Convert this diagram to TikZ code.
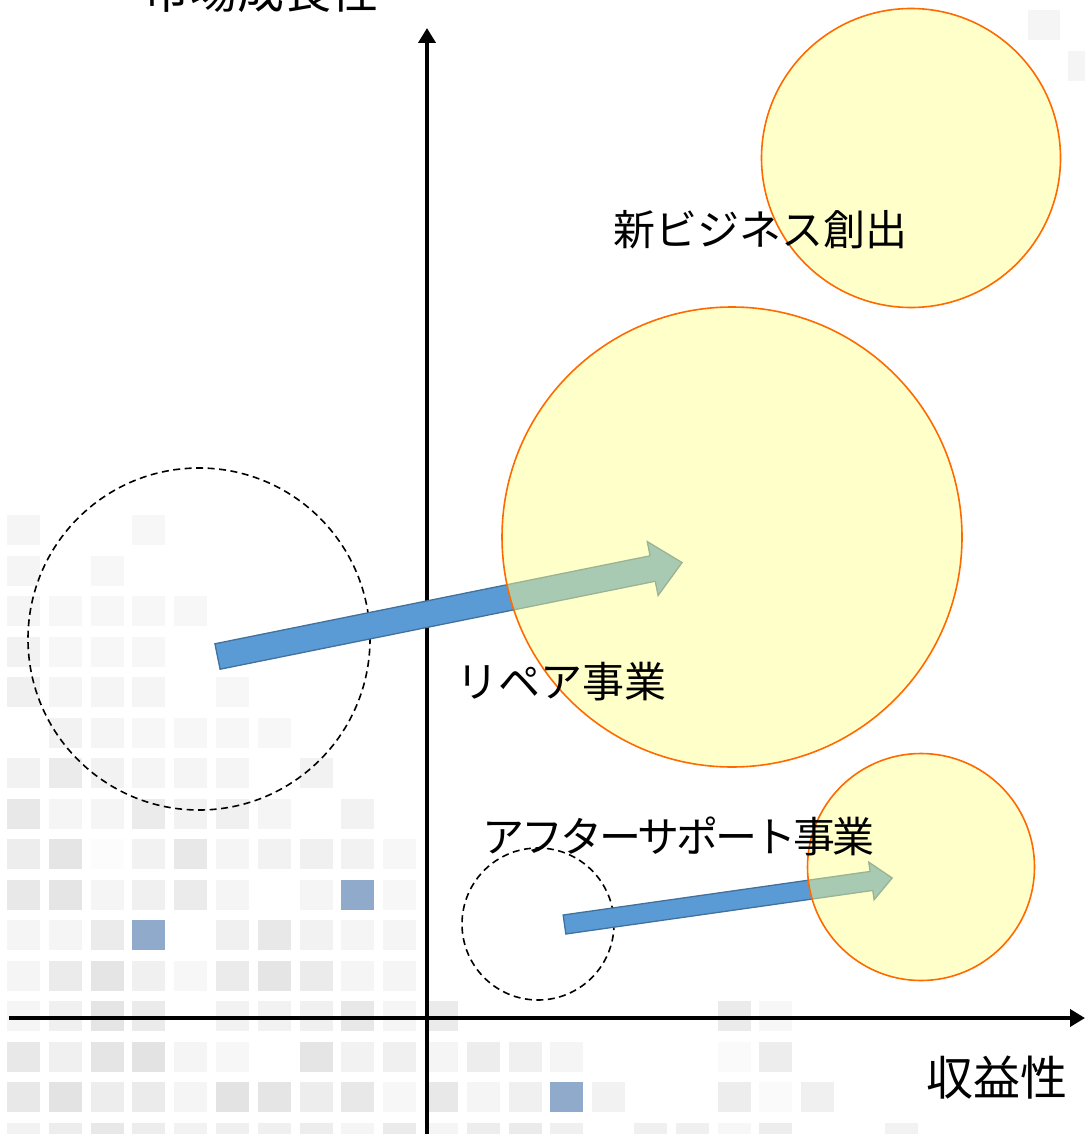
\documentclass[tikz,border=0pt]{standalone}
\usepackage{fontspec}
\newfontfamily\jp{Noto Sans CJK JP}
\newfontfamily\jptight[LetterSpace=-7.2]{Noto Sans CJK JP}
\usetikzlibrary{arrows.meta}
\definecolor{sqblue}{RGB}{143,170,203}
\definecolor{arrblue}{RGB}{91,155,213}
\definecolor{arrline}{RGB}{65,113,156}
\definecolor{circfill}{RGB}{255,255,140}
\definecolor{circline}{RGB}{255,106,0}
\tikzset{
  sq/.style={fill=black!#1},
  axisline/.style={line width=4.5pt, -{Triangle[width=17pt,length=15pt]}},
  dashcirc/.style={circle, draw=black, line width=1.6pt, dash pattern=on 7pt off 4.5pt, inner sep=0pt},
  yelcirc/.style={circle, draw=circline, line width=1.6pt, fill=circfill, fill opacity=0.47, draw opacity=1, inner sep=0pt},
  blockarr/.style={fill=arrblue, draw=arrline, line width=1.3pt, line join=miter},
  lbl/.style={inner sep=0pt, anchor=base, text=black},
  biglbl/.style={lbl, font=\jp\fontsize{42}{50}\selectfont},
  tightlbl/.style={lbl, font=\jptight\fontsize{42}{50}\selectfont},
  axlbl/.style={lbl, font=\jp\fontsize{47}{56}\selectfont},
}
\newcommand{\myblockarrow}[7]{%
  \begin{scope}[shift={(#1,#2)}, rotate=#3]
    \draw[blockarr] (0,#5) -- ({#4-#7},#5) -- ({#4-#7},#6) -- (#4,0) -- ({#4-#7},-#6) -- ({#4-#7},-#5) -- (0,-#5) -- cycle;
  \end{scope}}
\begin{document}
\begin{tikzpicture}[x=1pt,y=-1pt]
\useasboundingbox (0,0) rectangle (1085,1134);
\clip (0,0) rectangle (1085,1134);
% background grid of squares
\foreach \c/\r/\l in {
 0/0/4, 3/0/3,
 0/1/4, 2/1/3,
 0/2/4, 1/2/3, 2/2/3, 3/2/3, 4/2/3,
 0/3/5, 1/3/3, 2/3/3, 3/3/3,
 0/4/6, 1/4/4, 2/4/4, 3/4/4, 5/4/3,
 1/5/5, 2/5/4, 3/5/3, 4/5/3, 5/5/3, 6/5/3,
 0/6/5, 1/6/8, 2/6/5, 3/6/4, 4/6/4, 5/6/4, 7/6/5,
 0/7/9, 1/7/4, 2/7/4, 3/7/8, 4/7/5, 5/7/6, 6/7/4, 8/7/5,
 0/8/7, 1/8/10, 2/8/1, 3/8/5, 4/8/9, 5/8/4, 6/8/5, 7/8/6, 8/8/5, 9/8/3,
 0/9/9, 1/9/10, 2/9/4, 3/9/6, 4/9/8, 5/9/4, 7/9/4, 9/9/3,
 0/10/4, 1/10/4, 2/10/8, 5/10/6, 6/10/9, 7/10/5, 8/10/4, 9/10/4,
 0/11/4, 1/11/8, 2/11/10, 3/11/6, 4/11/3, 5/11/8, 6/11/10, 7/11/8, 8/11/4, 9/11/4,
 0/12/4, 1/12/6, 2/12/10, 3/12/8, 5/12/5, 6/12/5, 7/12/6, 8/12/9, 9/12/4, 10/12/8, 17/12/8, 18/12/3,
 0/13/9, 1/13/6, 2/13/10, 3/13/11, 4/13/4, 5/13/3, 7/13/10, 8/13/5, 9/13/6, 10/13/4, 11/13/7, 12/13/6, 13/13/4, 17/13/2, 18/13/7,
 0/14/9, 1/14/11, 2/14/7, 3/14/8, 4/14/4, 5/14/11, 6/14/10, 7/14/7, 8/14/9, 9/14/3, 10/14/9, 11/14/4, 12/14/6, 14/14/5, 17/14/7, 18/14/2, 19/14/6,
 0/15/5, 1/15/7, 2/15/9, 3/15/7, 4/15/5, 5/15/6, 6/15/6, 7/15/7, 8/15/4, 9/15/8, 10/15/4, 11/15/7, 12/15/8, 13/15/6, 15/15/6, 16/15/6, 17/15/3, 18/15/7, 21/15/5}
 { \fill[sq=\l] ({7+41.8*\c},{515+40.5*\r}) rectangle ++(33,30); }
\foreach \c/\r in {8/9, 3/10, 13/14}
 { \fill[sqblue] ({7+41.8*\c},{515+40.5*\r}) rectangle ++(33,30); }
\fill[sq=4] (1028,10) rectangle ++(32,30);
\fill[sq=4] (1068,51) rectangle ++(32,30);
% axes
\coordinate (ybot) at (427,1134);
\coordinate (ytop) at (427,28);
\coordinate (xleft) at (9,1018);
\coordinate (xright) at (1085,1018);
\draw[axisline] (ybot) -- (ytop);
\draw[axisline] (xleft) -- (xright);
% dashed circles
\node[dashcirc, minimum size=342pt] (oldrepair) at (199,639) {};
\node[dashcirc, minimum size=152pt] (oldafter) at (538,924) {};
% block arrows
\myblockarrow{217.5}{656.5}{11.43}{474}{13}{27.5}{30}
\myblockarrow{564.5}{924.5}{8.08}{331}{9.6}{19}{21}
% yellow circles
\node[yelcirc, minimum size=299pt] (newbiz) at (911,158) {};
\node[yelcirc, minimum size=460pt] (repair) at (732,537) {};
\node[yelcirc, minimum size=227pt] (after) at (921,867) {};
% labels
\node[axlbl] (ylab) at (261,9) {市場成長性};
\node[axlbl] (xlab) at (997,1095) {収益性};
\node[biglbl] (lnew) at (760,245.5) {新ビジネス創出};
\node[biglbl] (lrep) at (561,697) {リペア事業};
\node[tightlbl] (laft) at (678,852) {アフターサポート事業};
\end{tikzpicture}
\end{document}
